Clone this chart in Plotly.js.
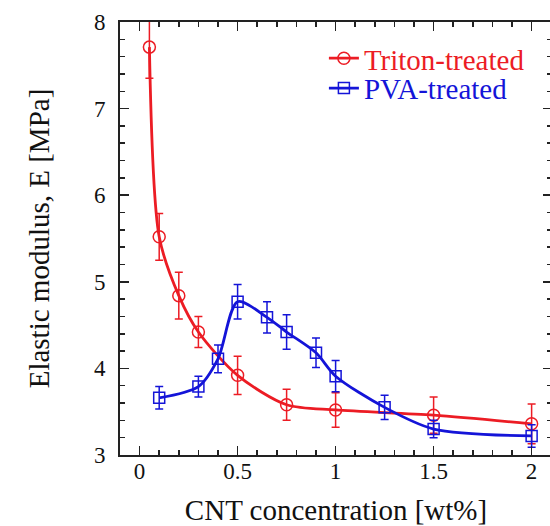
<!DOCTYPE html>
<html>
<head>
<meta charset="utf-8">
<script src="https://cdn.plot.ly/plotly-3.0.1.min.js"></script>
<style>
html, body { margin: 0; padding: 0; background: #fff; overflow: hidden; }
#chart { width: 552px; height: 526px; }
</style>
</head>
<body>
<div id="chart"></div>
<script>
// Triton-treated series
const tritonX = [0.05, 0.1, 0.2, 0.3, 0.5, 0.75, 1.0, 1.5, 2.0];
const tritonY = [7.71, 5.52, 4.84, 4.42, 3.92, 3.58, 3.52, 3.46, 3.36];
const tritonErr = [0.36, 0.27, 0.27, 0.18, 0.22, 0.18, 0.20, 0.21, 0.23];

// PVA-treated series
const pvaX = [0.1, 0.3, 0.4, 0.5, 0.65, 0.75, 0.9, 1.0, 1.25, 1.5, 2.0];
const pvaY = [3.66, 3.79, 4.11, 4.77, 4.59, 4.42, 4.18, 3.91, 3.55, 3.30, 3.22];
const pvaErr = [0.13, 0.12, 0.16, 0.20, 0.18, 0.20, 0.17, 0.18, 0.14, 0.10, 0.13];

const seriesNames = ["Triton-treated", "PVA-treated"];
const xTickVals = [0, 0.5, 1, 1.5, 2];
const xTickText = ["0", "0.5", "1", "1.5", "2"];

const red = "#ec1c24";
const blue = "#1414d8";
const serif = "Liberation Serif, Times New Roman, serif";

const traces = [
  {
    x: tritonX, y: tritonY, name: seriesNames[0], legend: "legend",
    type: "scatter", mode: "lines+markers",
    line: { color: red, width: 2.8, shape: "spline", smoothing: 0.8 },
    marker: { symbol: "circle-open", size: 12, color: red, line: { width: 1.5, color: red } },
    error_y: { type: "data", array: tritonErr, visible: true, color: red, thickness: 1.5, width: 4 }
  },
  {
    x: pvaX, y: pvaY, name: seriesNames[1], legend: "legend2",
    type: "scatter", mode: "lines+markers",
    line: { color: blue, width: 2.8, shape: "spline", smoothing: 0.8 },
    marker: { symbol: "square-open", size: 11, color: blue, line: { width: 1.5, color: blue } },
    error_y: { type: "data", array: pvaErr, visible: true, color: blue, thickness: 1.5, width: 4 }
  }
];

const axisCommon = {
  showgrid: false, zeroline: false,
  showline: true, linecolor: "#222", linewidth: 2,
  mirror: "allticks",
  ticks: "inside", ticklen: 9, tickwidth: 1.5, tickcolor: "#222",
  tickfont: { family: serif, size: 23, color: "#111" }
};

const legendCommon = {
  xanchor: "left", yanchor: "middle",
  bgcolor: "rgba(0,0,0,0)", borderwidth: 0,
  font: { family: serif, size: 29 },
  itemwidth: 30
};

const layout = {
  width: 552, height: 526,
  margin: { l: 120, r: 0, t: 22, b: 71 },
  paper_bgcolor: "#fff", plot_bgcolor: "#fff",
  showlegend: true,
  legend: Object.assign({}, legendCommon, { x: 0.472, y: 0.916, font: { family: serif, size: 29, color: red } }),
  legend2: Object.assign({}, legendCommon, { x: 0.472, y: 0.847, font: { family: serif, size: 29, color: blue } }),
  xaxis: Object.assign({}, axisCommon, {
    range: [-0.1, 2.104],
    tickvals: xTickVals,
    ticktext: xTickText,
    minor: { dtick: 0.1, ticks: "inside", ticklen: 5, tickwidth: 1.5, tickcolor: "#222" },
    ticklabelstandoff: -6,
    title: { text: "CNT concentration [wt%]", font: { family: serif, size: 29, color: "#111" }, standoff: 18 }
  }),
  yaxis: Object.assign({}, axisCommon, {
    range: [3, 8],
    dtick: 1,
    minor: { dtick: 0.2, ticks: "inside", ticklen: 5, tickwidth: 1.5, tickcolor: "#222" },
    ticklabelstandoff: 8,
    title: { text: "Elastic modulus, E [MPa]", font: { family: serif, size: 29, color: "#111" }, standoff: 36 }
  })
};

Plotly.newPlot("chart", traces, layout, { displayModeBar: false, staticPlot: true });
</script>
</body>
</html>
